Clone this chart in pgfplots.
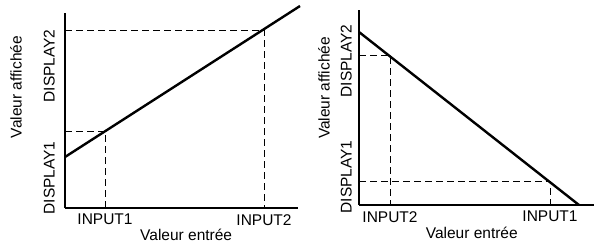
\documentclass[border=0pt]{standalone}
\usepackage{fontspec}
\setmainfont{Liberation Sans}
\usepackage{pgfplots}
\pgfplotsset{compat=1.18}
\begin{document}
\fontsize{15.5bp}{18bp}\selectfont
\begin{tikzpicture}[x=1bp,y=1bp]
\useasboundingbox (0,0) rectangle (596,245);
\pgfplotsset{
  myax/.style={
    x=1bp, y=1bp,
    axis x line*=bottom, axis y line*=left,
    axis line style={-, line width=1.6bp, black},
    major tick length=0pt,
    clip=false,
    xtick pos=bottom, ytick pos=left,
    yticklabel style={rotate=90, anchor=south, inner sep=0pt},
    xticklabel style={anchor=north, inner sep=0pt},
    xticklabel shift=6bp,
    label style={font=\fontsize{15.5bp}{18bp}\selectfont},
    tick label style={font=\fontsize{15.5bp}{18bp}\selectfont},
  },
  dline/.style={black, line width=0.8bp, dash pattern=on 7bp off 4bp},
  mline/.style={black, line width=2.4bp},
}
% Left chart
\begin{axis}[myax, anchor=south west, at={(65,37)},
  xmin=65, xmax=298, ymin=37, ymax=232,
  xtick={105,264}, xticklabels={INPUT1,INPUT2},
  ytick={67,179}, yticklabels={DISPLAY1,DISPLAY2},
  yticklabel shift=10bp,
  xlabel={Valeur entrée}, ylabel={Valeur affichée},
  xlabel style={at={(axis description cs:0.52,0)}, anchor=north, yshift=-21bp, inner sep=0pt},
  ylabel style={at={(axis description cs:0,0.62)}, anchor=south, yshift=43bp, inner sep=0pt},
]
\addplot[dline] coordinates {(65,215) (264,215) (264,37)};
\addplot[dline] coordinates {(65,114) (105,114) (105,37)};
\addplot[mline] coordinates {(65,88) (300,239)};
\end{axis}
% Right chart
\begin{axis}[myax, anchor=south west, at={(359,40)},
  xmin=359, xmax=594, ymin=40, ymax=235,
  xtick={390,550}, xticklabels={INPUT2,INPUT1},
  ytick={68,184}, yticklabels={DISPLAY1,DISPLAY2},
  yticklabel shift=7bp,
  xlabel={Valeur entrée}, ylabel={Valeur affichée},
  xlabel style={at={(axis description cs:0.48,0)}, anchor=north, yshift=-22bp, inner sep=0pt},
  ylabel style={at={(axis description cs:0,0.6)}, anchor=south, yshift=29bp, inner sep=0pt},
]
\addplot[dline] coordinates {(359,190) (390,190) (390,40)};
\addplot[dline] coordinates {(359,64) (550,64) (550,40)};
\addplot[mline] coordinates {(359,213) (579,40)};
\end{axis}
\end{tikzpicture}
\end{document}
